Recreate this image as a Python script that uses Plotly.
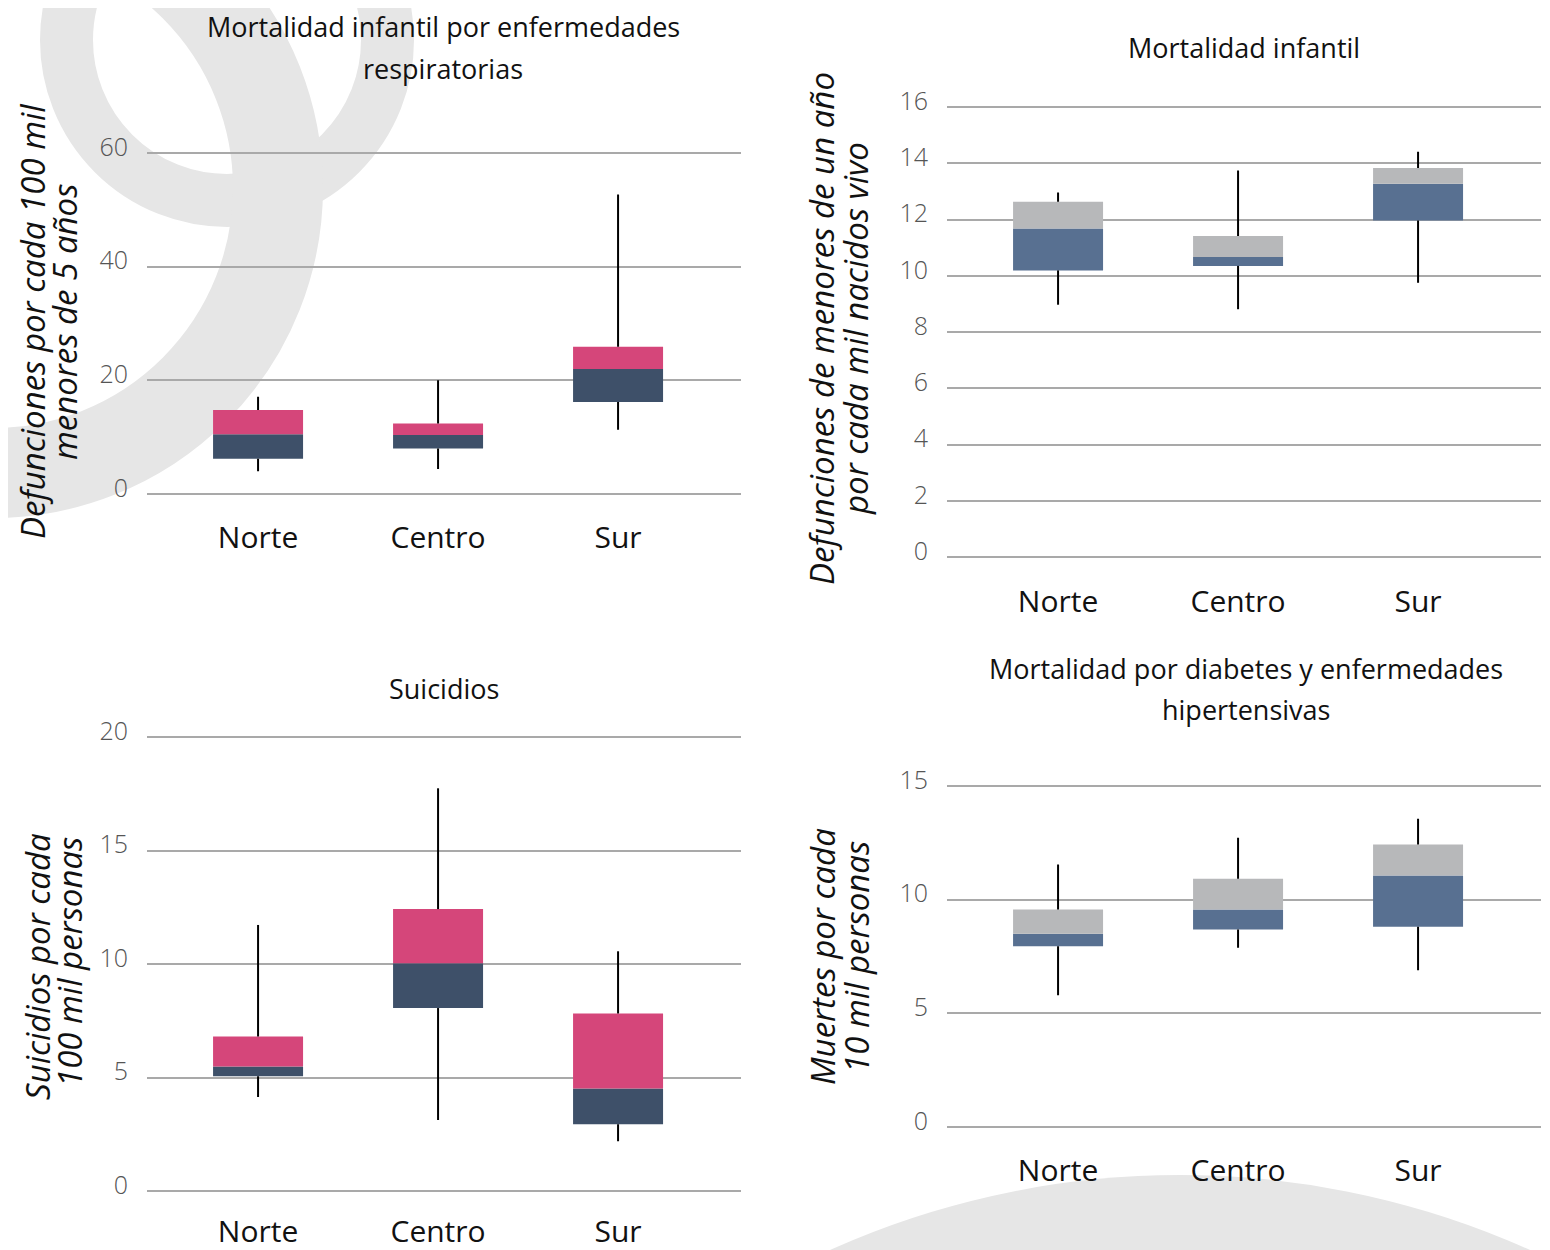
import plotly.graph_objects as go

W, H = 1550, 1250
OFF = 8  # page body margin in the browser

cats = ["Norte", "Centro", "Sur"]

# Mortalidad infantil por enfermedades respiratorias
resp_min = [4.0, 4.4, 11.3]
resp_q1 = [6.2, 8.0, 16.2]
resp_med = [10.5, 10.4, 22.0]
resp_q3 = [14.8, 12.4, 25.9]
resp_max = [17.1, 20.0, 52.7]

# Mortalidad infantil
inf_min = [8.97, 8.81, 9.75]
inf_q1 = [10.19, 10.35, 11.96]
inf_med = [11.68, 10.67, 13.27]
inf_q3 = [12.63, 11.41, 13.83]
inf_max = [12.96, 13.74, 14.41]

# Suicidios
sui_min = [4.14, 3.13, 2.19]
sui_q1 = [5.05, 8.06, 2.94]
sui_med = [5.49, 10.03, 4.52]
sui_q3 = [6.81, 12.42, 7.82]
sui_max = [11.72, 17.74, 10.56]

# Mortalidad por diabetes y enfermedades hipertensivas
dia_min = [5.79, 7.89, 6.89]
dia_q1 = [7.95, 8.69, 8.81]
dia_med = [8.50, 9.57, 11.06]
dia_q3 = [9.57, 10.92, 12.43]
dia_max = [11.55, 12.72, 13.56]

FONT = "Open Sans"
PINK, DARK = "#D5467A", "#3E5069"
GRAY, BLUE = "#B7B8BA", "#587091"
GRID = "#A9A9A9"
BG = "#E6E6E6"


def PX(x):
    return (x - OFF) / W


def PY(y):
    return 1 - (y - OFF) / H


def ydom(v0, p0, v1, p1, lo, hi):
    s = (p0 - p1) / (v1 - v0)
    bot = p0 + (v0 - lo) * s
    top = p1 - (hi - v1) * s
    return [PY(bot), PY(top)]


panels = [
    dict(vmin=resp_min, q1=resp_q1, med=resp_med, q3=resp_q3, vmax=resp_max,
         lo_c=DARK, hi_c=PINK, x=(147, 741), yref=(0, 494, 60, 153), rng=(-0.6, 60.6),
         dtick=20, xstand=20),
    dict(vmin=inf_min, q1=inf_q1, med=inf_med, q3=inf_q3, vmax=inf_max,
         lo_c=BLUE, hi_c=GRAY, x=(947, 1541), yref=(0, 557, 16, 107), rng=(-0.15, 16.15),
         dtick=2, xstand=20),
    dict(vmin=sui_min, q1=sui_q1, med=sui_med, q3=sui_q3, vmax=sui_max,
         lo_c=DARK, hi_c=PINK, x=(147, 741), yref=(0, 1191, 20, 737), rng=(-0.2, 20.2),
         dtick=5, xstand=15),
    dict(vmin=dia_min, q1=dia_q1, med=dia_med, q3=dia_q3, vmax=dia_max,
         lo_c=BLUE, hi_c=GRAY, x=(947, 1541), yref=(0, 1127, 15, 786), rng=(-0.15, 15.15),
         dtick=5, xstand=20),
]

fig = go.Figure()
for i, p in enumerate(panels):
    n = "" if i == 0 else str(i + 1)
    xa, ya = "x" + n, "y" + n
    # whiskers (drawn outside the box)
    wx, wy = [], []
    for c, a, b, d, e in zip(cats, p["vmin"], p["q1"], p["q3"], p["vmax"]):
        wx += [c, c, None, c, c, None]
        wy += [a, b, None, d, e, None]
    fig.add_trace(go.Scatter(x=wx, y=wy, mode="lines", line=dict(color="black", width=2),
                             xaxis=xa, yaxis=ya, showlegend=False, hoverinfo="skip"))
    fig.add_trace(go.Bar(x=cats, base=p["q1"], y=[m - q for m, q in zip(p["med"], p["q1"])],
                         marker=dict(color=p["lo_c"], line=dict(width=0)), width=0.5,
                         xaxis=xa, yaxis=ya, showlegend=False))
    fig.add_trace(go.Bar(x=cats, base=p["med"], y=[q - m for q, m in zip(p["q3"], p["med"])],
                         marker=dict(color=p["hi_c"], line=dict(width=0)), width=0.5,
                         xaxis=xa, yaxis=ya, showlegend=False))
    x0, x1 = p["x"]
    v0, p0, v1, p1 = p["yref"]
    fig.layout["xaxis" + n] = dict(
        domain=[PX(x0), PX(x1)], anchor=ya, type="category", range=[-0.617, 2.683],
        showgrid=False, zeroline=False, showline=False, ticks="", automargin=False,
        tickfont=dict(family=FONT, size=30, color="#111111"), ticklabelstandoff=p["xstand"],
    )
    fig.layout["yaxis" + n] = dict(
        domain=ydom(v0, p0, v1, p1, *p["rng"]), anchor=xa, range=list(p["rng"]),
        dtick=p["dtick"], tick0=0, showgrid=True, gridcolor=GRID, gridwidth=1.5,
        zeroline=False, showline=False, ticks="", automargin=False,
        tickfont=dict(family=FONT, size=25, color="#555555", weight=300),
        ticklabelstandoff=18, ticklabelshift=-6,
    )

ann = []


def title(text, xc, yc, size=27):
    ann.append(dict(text=text, x=PX(xc), y=PY(yc), xref="paper", yref="paper",
                    showarrow=False, xanchor="center", yanchor="middle",
                    font=dict(family=FONT, size=size, color="#111111")))


def ytitle(text, xc, yc):
    ann.append(dict(text=text, x=PX(xc), y=PY(yc), xref="paper", yref="paper",
                    showarrow=False, xanchor="center", yanchor="middle", textangle=-90,
                    font=dict(family=FONT, size=33, color="#111111", style="italic")))


title("Mortalidad infantil por enfermedades", 443, 27)
title("respiratorias", 443, 68)
title("Mortalidad infantil", 1244, 47)
title("Suicidios", 444, 688)
title("Mortalidad por diabetes y enfermedades", 1246, 668)
title("hipertensivas", 1246, 709)

ytitle("Defunciones por cada 100 mil", 32, 322)
ytitle("menores de 5 años", 64, 322)
ytitle("Defunciones de menores de un año", 822, 329)
ytitle("por cada mil nacidos vivo", 856, 329)
ytitle("Suicidios por cada", 37, 967)
ytitle("100 mil personas", 69, 962)
ytitle("Muertes por cada", 822, 957)
ytitle("10 mil personas", 856, 957)


def ring(cx, cy, r, w, fill=None):
    d = dict(type="circle", xref="paper", yref="paper", layer="below",
             x0=PX(cx - r), x1=PX(cx + r), y0=PY(cy + r), y1=PY(cy - r))
    if fill:
        d.update(fillcolor=fill, line=dict(width=0))
    else:
        d.update(line=dict(color=BG, width=w))
    return d


shapes = [
    ring(227, 40, 160.5, 53),
    ring(-7, 188, 285, 90),
    ring(1180, 2029, 854, 0, fill=BG),
]

fig.update_layout(
    width=W, height=H, margin=dict(l=0, r=0, t=0, b=0, autoexpand=False),
    paper_bgcolor="white", plot_bgcolor="rgba(0,0,0,0)",
    barmode="overlay", annotations=ann, shapes=shapes, showlegend=False,
    font=dict(family=FONT),
)

fig.write_html("out.html")
